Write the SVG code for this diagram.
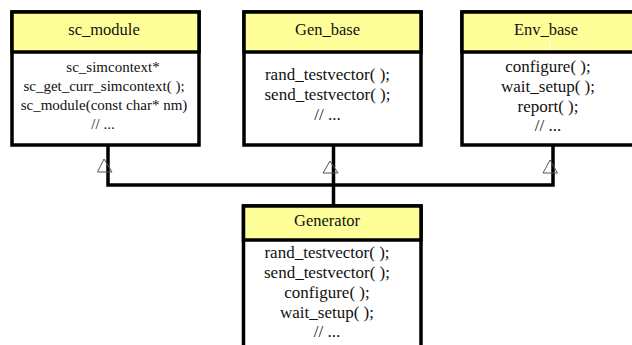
<svg xmlns="http://www.w3.org/2000/svg" width="632" height="345" viewBox="0 0 632 345" font-family="'Liberation Serif', 'Times New Roman', serif">
<style>
.box{fill:#ffffff;stroke:#000;stroke-width:3.5}
.hdr{fill:#ffff99;stroke:#000;stroke-width:3.5}
text{font-family:'Liberation Serif','Times New Roman',serif;fill:#111;text-anchor:middle}
.h{font-size:16.5px}
.b{font-size:17px}
.s{font-size:15px}
.conn{fill:none;stroke:#000;stroke-width:3.5}
.tri{fill:none;stroke:#555;stroke-width:1}
</style>
<rect width="632" height="345" fill="#ffffff"/>
<g id="connectors">
<polyline class="conn" points="108,145 108,185 553,185 553,145"/>
<line class="conn" x1="333.5" y1="145" x2="333.5" y2="206"/>
<polygon class="tri" points="104,159 97.5,172 112,172"/>
<polygon class="tri" points="330,161 323,173 338,173"/>
<polygon class="tri" points="550,160 543,173 557.5,173"/>
</g>
<g id="sc_module">
<rect class="box" x="12" y="12" width="187" height="133"/>
<rect class="hdr" x="12" y="12" width="187" height="40"/>
<text class="h" x="104" y="35">sc_module</text>
<text class="s" x="113" y="72">sc_simcontext*</text>
<text class="s" x="104" y="91">sc_get_curr_simcontext( );</text>
<text class="s" x="104" y="110">sc_module(const char* nm)</text>
<text class="s" x="103" y="129">// ...</text>
</g>
<g id="Gen_base">
<rect class="box" x="244" y="12" width="177" height="133"/>
<rect class="hdr" x="244" y="12" width="177" height="40"/>
<text class="h" x="327.5" y="35">Gen_base</text>
<text class="b" x="327.5" y="80">rand_testvector( );</text>
<text class="b" x="327.5" y="100">send_testvector( );</text>
<text class="b" x="327.5" y="120">// ...</text>
</g>
<g id="Env_base">
<rect class="box" x="462" y="12" width="180" height="133"/>
<rect class="hdr" x="462" y="12" width="180" height="40"/>
<line x1="550" y1="40" x2="550" y2="50" stroke="#ffffff" stroke-width="1"/>
<text class="h" x="546" y="35">Env_base</text>
<text class="b" x="548" y="72">configure( );</text>
<text class="b" x="548" y="92">wait_setup( );</text>
<text class="b" x="548" y="112">report( );</text>
<text class="b" x="548" y="131">// ...</text>
</g>
<g id="Generator">
<rect class="box" x="243.5" y="206" width="177.5" height="160"/>
<rect class="hdr" x="243.5" y="206" width="177.5" height="34"/>
<text class="h" x="327" y="226">Generator</text>
<text class="b" x="327" y="258">rand_testvector( );</text>
<text class="b" x="327" y="278">send_testvector( );</text>
<text class="b" x="327" y="298">configure( );</text>
<text class="b" x="327" y="318">wait_setup( );</text>
<text class="b" x="327" y="337">// ...</text>
</g>
</svg>
